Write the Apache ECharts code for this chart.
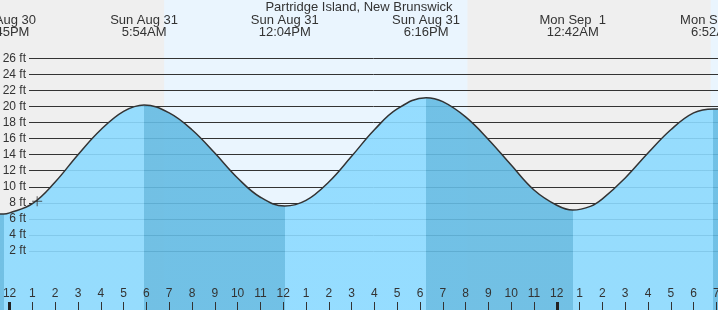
<!DOCTYPE html>
<html>
<head>
<meta charset="utf-8">
<script src="https://cdn.jsdelivr.net/npm/echarts@6/dist/echarts.min.js"></script>
<style>html,body{margin:0;padding:0;background:#efefef}#c{width:718px;height:310px}</style>
</head>
<body>
<div id="c"></div>
<script>
// Hours since Sun Aug 31 00:00, tide height in feet
const tideHours = [-0.42, -0.25, 0, 1, 2, 3, 4, 5, 5.9, 7, 8, 9, 10, 11, 12.07, 13, 14, 15, 16, 17, 18.27, 19, 20, 21, 22, 23, 24, 24.7, 25.5, 26, 27, 28, 29, 30, 30.87, 31.07];
const tideFeet  = [6.6, 6.6, 6.75, 7.9, 10.6, 14.0, 17.1, 19.4, 20.2, 19.2, 17.1, 14.2, 11.1, 8.7, 7.6, 8.3, 10.6, 13.8, 17.1, 19.7, 21.1, 20.6, 18.7, 15.9, 12.7, 9.6, 7.7, 7.1, 7.6, 8.5, 11.1, 14.2, 17.1, 19.2, 19.7, 19.7];

// High/low tide events
const extremeHours = [-0.25, 5.9, 12.0667, 18.2667, 24.7, 30.8667];
const extremeKinds = ['low', 'high', 'low', 'high', 'low', 'high'];
const extremeDays  = ['Sat Aug 30', 'Sun Aug 31', 'Sun Aug 31', 'Sun Aug 31', 'Mon Sep  1', 'Mon Sep  1'];
const extremeTimes = ['11:45PM', '5:54AM', '12:04PM', '6:16PM', '12:42AM', '6:52AM'];

// Daylight periods (sunrise, sunset)
const daylight = [[6.78, 20.08], [30.75, 31.07]];

// Hour ticks along the bottom
const hourTicks = [0,1,2,3,4,5,6,7,8,9,10,11,12,13,14,15,16,17,18,19,20,21,22,23,24,25,26,27,28,29,30,31];
const midnightTicks = [0, 24];

// Y gridlines / labels
const ftTicks = [2,4,6,8,10,12,14,16,18,20,22,24,26];

// Current-time marker
const nowPoint = [[1.21, 8.2]];

const X_MIN = -0.42, X_MAX = 31.07, Y_MIN = -5.34, Y_MAX = 33.26;
const LIGHT = 'rgb(140,218,255)', DARK = 'rgb(100,187,227)';

const pieces = [];
let prev = -1000;
for (let i = 0; i < extremeHours.length; i++) {
  const prevKind = extremeKinds[i] === 'low' ? 'high' : 'low';
  pieces.push({ gte: prev, lt: extremeHours[i], color: prevKind === 'high' ? DARK : LIGHT });
  prev = extremeHours[i];
}
pieces.push({ gte: prev, lt: 1000, color: extremeKinds[extremeKinds.length - 1] === 'high' ? DARK : LIGHT });

const data = tideHours.map((h, i) => [h, tideFeet[i]]);
const font = 'Liberation Sans, Arial, sans-serif';

function hourLabel(v) {
  const h = Math.round(v);
  const m = ((h % 12) + 12) % 12;
  return String(m === 0 ? 12 : m);
}
function extremeLabel(v) {
  let best = 0;
  for (let i = 0; i < extremeHours.length; i++) {
    if (Math.abs(extremeHours[i] - v) < Math.abs(extremeHours[best] - v)) best = i;
  }
  return extremeDays[best] + '\n' + extremeTimes[best];
}

const chart = echarts.init(document.getElementById('c'), null, { renderer: 'canvas' });
chart.setOption({
  animation: false,
  backgroundColor: '#efefef',
  title: {
    text: 'Partridge Island, New Brunswick',
    left: 'center', top: 1, padding: 0,
    textStyle: { fontFamily: font, fontSize: 13, fontWeight: 'normal', color: '#333' }
  },
  grid: [
    { left: 0, right: 0, top: 0, bottom: 0, containLabel: false, outerBoundsMode: 'none' },
    { left: 29, right: 0, top: 0, bottom: 0, containLabel: false, outerBoundsMode: 'none' }
  ],
  xAxis: [
    { type: 'value', gridIndex: 0, min: X_MIN, max: X_MAX, show: false },
    { type: 'value', gridIndex: 0, min: X_MIN, max: X_MAX, position: 'bottom', z: 4,
      axisLine: { show: false }, splitLine: { show: false },
      axisTick: { show: true, inside: true, length: 8, customValues: hourTicks, lineStyle: { color: '#333', width: 1 } },
      axisLabel: { show: true, inside: true, margin: 10, customValues: hourTicks, formatter: hourLabel,
                   fontFamily: font, fontSize: 12, color: '#333' } },
    { type: 'value', gridIndex: 0, min: X_MIN, max: X_MAX, position: 'bottom', z: 4,
      axisLine: { show: false }, splitLine: { show: false }, axisLabel: { show: false },
      axisTick: { show: true, inside: true, length: 8, customValues: midnightTicks, lineStyle: { color: '#222', width: 3 } } },
    { type: 'value', gridIndex: 0, min: X_MIN, max: X_MAX, position: 'top', z: 4,
      axisLine: { show: false }, splitLine: { show: false }, axisTick: { show: false, customValues: extremeHours },
      axisLabel: { show: true, inside: true, margin: 14, customValues: extremeHours, formatter: extremeLabel,
                   fontFamily: font, fontSize: 13, lineHeight: 12, color: '#333', align: 'center' } },
    { type: 'value', gridIndex: 1, min: 0, max: 1, show: false }
  ],
  yAxis: [
    { type: 'value', gridIndex: 0, min: Y_MIN, max: Y_MAX, show: false, position: 'left' },
    { type: 'value', gridIndex: 1, min: Y_MIN, max: Y_MAX, z: 1, position: 'left',
      axisLine: { show: false }, axisLabel: { show: false },
      axisTick: { show: false, customValues: ftTicks },
      splitLine: { show: true, lineStyle: { color: '#333', width: 1 } } },
    { type: 'value', gridIndex: 1, min: Y_MIN, max: Y_MAX, z: 4, position: 'left',
      axisLine: { show: false }, splitLine: { show: false },
      axisTick: { show: false, customValues: ftTicks },
      axisLabel: { show: true, margin: 3, customValues: ftTicks, formatter: v => v + ' ft',
                   fontFamily: font, fontSize: 12, color: '#333' } }
  ],
  visualMap: {
    type: 'piecewise', show: false, dimension: 0, seriesIndex: 1, pieces: pieces
  },
  series: [
    { type: 'line', xAxisIndex: 0, yAxisIndex: 0, data: data, z: 0, symbol: 'none', silent: true,
      lineStyle: { opacity: 0 },
      markArea: { silent: true, z: 0, itemStyle: { color: '#eaf5fe' },
        data: daylight.map(d => [{ xAxis: d[0] }, { xAxis: d[1] }]) } },
    { type: 'line', xAxisIndex: 0, yAxisIndex: 0, data: data, z: 2, symbol: 'none', smooth: 0.4, silent: true,
      lineStyle: { width: 0, opacity: 0 },
      areaStyle: { origin: 'start', opacity: 0.9 } },
    { type: 'line', xAxisIndex: 0, yAxisIndex: 0, data: data, z: 3, symbol: 'none', smooth: 0.4, silent: true,
      lineStyle: { width: 1.5, color: '#333' } },
    { type: 'scatter', xAxisIndex: 0, yAxisIndex: 0, data: nowPoint, z: 5, silent: true,
      symbol: 'path://M0,5L10,5M5,0L5,10', symbolSize: 10,
      itemStyle: { color: 'none', borderColor: '#333', borderWidth: 1 } }
  ]
});
</script>
</body>
</html>
